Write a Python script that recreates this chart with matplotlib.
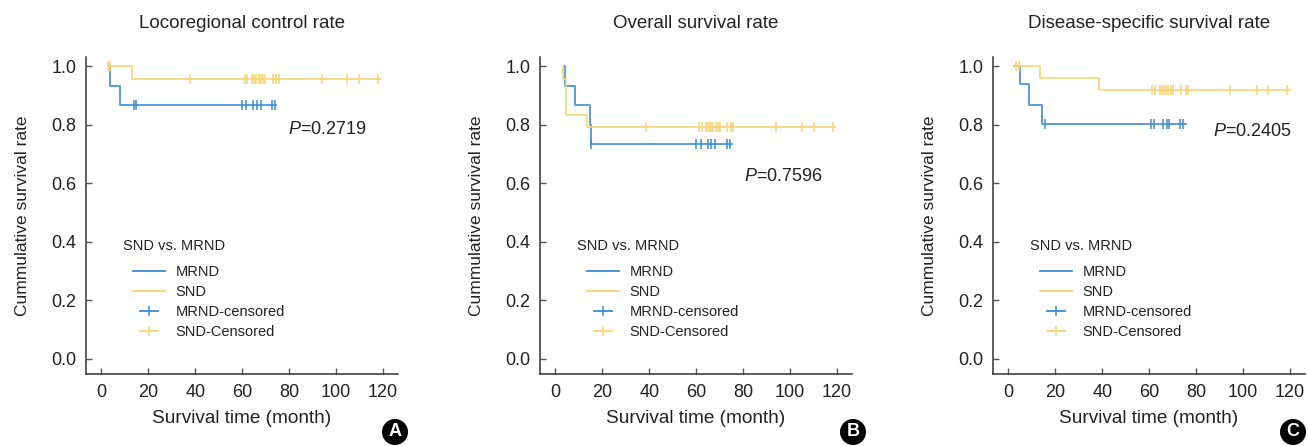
import numpy as np
import matplotlib

matplotlib.use("Agg")
import matplotlib.pyplot as plt
from matplotlib.lines import Line2D
from matplotlib.legend_handler import HandlerLine2D

plt.rcParams["font.family"] = ["Liberation Sans", "DejaVu Sans"]
plt.rcParams["mathtext.fontset"] = "custom"
plt.rcParams["mathtext.rm"] = "Liberation Sans"
plt.rcParams["mathtext.it"] = "Liberation Sans:italic"

BLUE = "#3a8cd2"
YELLOW = "#f6d475"
TEXT = "#222222"

TITLES = ["Locoregional control rate", "Overall survival rate", "Disease-specific survival rate"]
P_VALUES = ["0.2719", "0.7596", "0.2405"]
P_POS = [(79.5, 0.783), (80.2, 0.623), (87.1, 0.777)]
BADGES = ["A", "B", "C"]

# step curves: (time, survival) at each change, last point = end of follow-up
MRND_T = [
    [3.0, 3.5, 7.8, 74.6],
    [3.5, 4.0, 8.5, 14.6, 15.3, 75.4],
    [2.3, 4.8, 8.8, 14.5, 75.7],
]
MRND_S = [
    [1.0, 0.933, 0.867, 0.867],
    [1.0, 0.933, 0.867, 0.800, 0.733, 0.733],
    [1.0, 0.941, 0.869, 0.803, 0.803],
]
SND_T = [
    [2.8, 13.0, 118.6],
    [3.3, 3.3, 4.5, 13.4, 119.2],
    [2.3, 13.3, 38.6, 120.0],
]
SND_S = [
    [1.0, 0.957, 0.957],
    [1.0, 0.958, 0.833, 0.792, 0.792],
    [1.0, 0.960, 0.920, 0.920],
]

# censored times
MRND_C = [
    [13.9, 14.9, 59.9, 61.4, 64.6, 66.5, 67.8, 72.9, 74.0],
    [15.3, 60.1, 62.0, 65.1, 66.5, 68.2, 73.2, 74.3],
    [15.5, 60.6, 62.0, 65.8, 67.5, 68.6, 73.3, 74.3],
]
SND_C = [
    [2.8, 3.7, 37.9, 61.1, 61.9, 64.2, 65.0, 66.0, 67.0, 68.0, 69.0, 69.9,
     73.1, 74.6, 75.7, 94.0, 104.8, 109.8, 118.0],
    [38.5, 61.3, 62.3, 64.0, 65.1, 65.8, 66.5, 67.2, 68.3, 69.3, 70.0,
     73.1, 75.0, 75.7, 94.1, 105.1, 110.0, 118.1],
    [3.1, 4.4, 61.3, 62.3, 64.4, 65.4, 66.2, 67.2, 68.2, 69.1, 70.0,
     73.6, 75.7, 76.4, 94.6, 105.8, 110.5, 118.7],
]

AX_LEFT = [86, 540, 993]  # pixels


class ShortLine(HandlerLine2D):
    def create_artists(self, legend, orig_handle, xdescent, ydescent,
                       width, height, fontsize, trans):
        return super().create_artists(legend, orig_handle, xdescent - width * 0.22,
                                      ydescent, width * 0.56, height, fontsize, trans)


def step_value(times, surv, t):
    idx = np.searchsorted(times, t, side="right") - 1
    return surv[max(idx, 0)]


def draw_curve(ax, times, surv, cens, color):
    ax.step(times, surv, where="post", color=color, lw=1.3, alpha=0.9)
    ys = [step_value(times, surv, c) for c in cens]
    ax.plot(cens, ys, ls="none", marker="|", ms=6.5, mew=1.1, color=color)


W, H = 1308, 446
fig = plt.figure(figsize=(W / 100, H / 100), dpi=100)

for i in range(3):
    ax = fig.add_axes([AX_LEFT[i] / W, (H - 374) / H, 312 / W, 317 / H])
    draw_curve(ax, MRND_T[i], MRND_S[i], MRND_C[i], BLUE)
    draw_curve(ax, SND_T[i], SND_S[i], SND_C[i], YELLOW)

    ax.set_xlim(-6.6, 126.4)
    ax.set_ylim(-0.053, 1.032)
    ax.set_xticks(np.arange(0, 121, 20))
    ax.set_yticks(np.arange(0, 1.01, 0.2))
    ax.set_yticklabels([f"{v:.1f}" for v in np.arange(0, 1.01, 0.2)])
    for s in ["top", "right"]:
        ax.spines[s].set_visible(False)
    for s in ["left", "bottom"]:
        ax.spines[s].set_color("#333333")
        ax.spines[s].set_linewidth(1.1)
    ax.tick_params(direction="in", length=4.5, width=1.0, color="#555555",
                   labelsize=13, labelcolor=TEXT, pad=7)

    ax.set_title(TITLES[i], fontsize=13.5, color=TEXT, pad=21)
    ax.set_xlabel("Survival time (month)", fontsize=13.7, color=TEXT)
    ax.xaxis.set_label_coords(0.5, -0.113)
    ax.set_ylabel("Cummulative survival rate", fontsize=12.5, color=TEXT)
    ax.yaxis.set_label_coords(-0.178, 0.5)

    px, py = P_POS[i]
    ax.text(px, py, f"$P$=" + P_VALUES[i], fontsize=13, color=TEXT,
            ha="left", va="center")

    # legend
    ax.text(37 / 312, (374 - 246) / 317, "SND vs. MRND", transform=ax.transAxes,
            fontsize=10.5, color=TEXT, ha="left", va="center")
    handles = [
        Line2D([], [], color=BLUE, lw=1.3),
        Line2D([], [], color=YELLOW, lw=1.3),
        Line2D([], [], color=BLUE, lw=1.3, marker="|", ms=7, mew=1.1),
        Line2D([], [], color=YELLOW, lw=1.3, marker="|", ms=7, mew=1.1),
    ]
    labels = ["MRND", "SND", "MRND-censored", "SND-Censored"]
    ax.legend(handles, labels, loc="upper left",
              bbox_to_anchor=(47 / 312, (374 - 265) / 317),
              frameon=False, fontsize=10.5, borderpad=0, borderaxespad=0,
              handlelength=2.2, handletextpad=0.7, labelspacing=0.42,
              labelcolor=TEXT,
              handler_map={handles[2]: ShortLine(), handles[3]: ShortLine()})

    # badge
    bx = [395, 853, 1293][i]
    fig.text(bx / W, (H - 432) / H, BADGES[i], fontsize=13, fontweight="bold",
             color="white", ha="center", va="center",
             bbox=dict(boxstyle="circle,pad=0.25", fc="black", ec="none"))

fig.savefig("out.png", dpi=100)
